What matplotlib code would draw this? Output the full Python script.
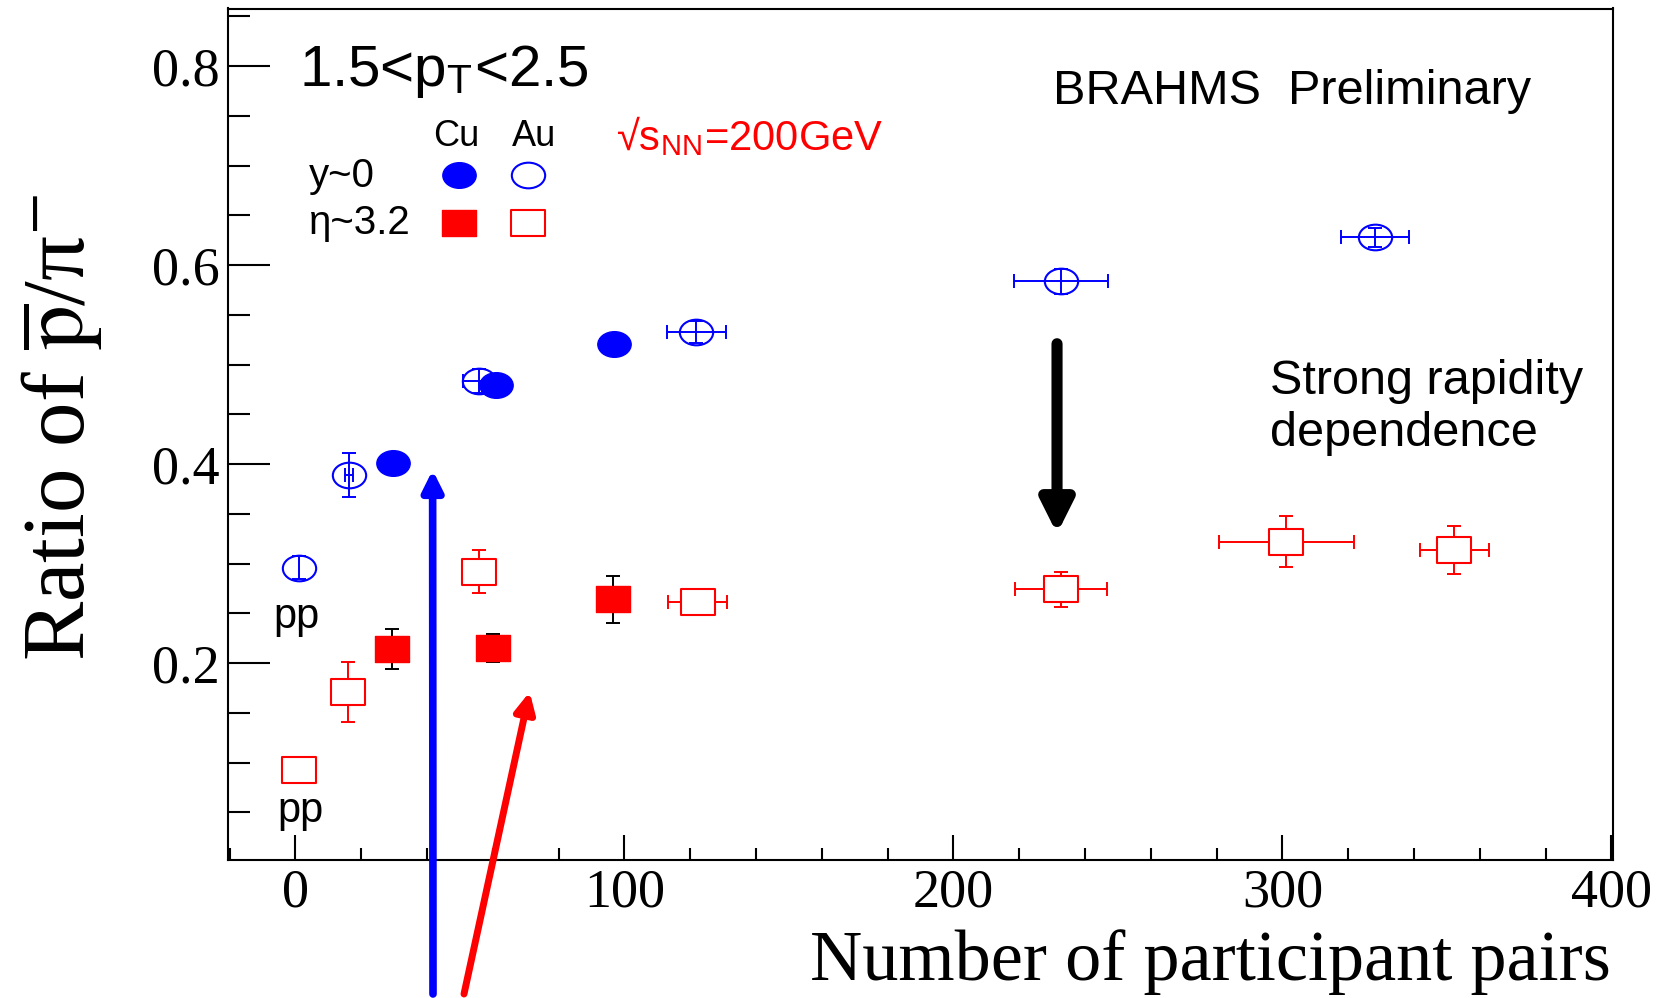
import numpy as np
import matplotlib
matplotlib.use("Agg")
import matplotlib.pyplot as plt
from matplotlib.path import Path
from matplotlib.transforms import Affine2D
from matplotlib.ticker import MultipleLocator, FixedLocator

# Au+Au at y~0 (open circles), first point is pp
au_mid_npart = [1, 16.3, 55.8, 121.9, 232.7, 328.2]
au_mid_ratio = [0.296, 0.389, 0.4835, 0.533, 0.584, 0.628]
au_mid_yerr = [0.012, 0.022, 0.012, 0.011, 0.0126, 0.0097]
au_mid_xerr = [0, 1.2, 5.0, 9.1, 14.2, 10.4]

# Cu+Cu at y~0 (filled circles)
cu_mid_npart = [29.6, 61.0, 96.8]
cu_mid_ratio = [0.401, 0.480, 0.521]

# Au+Au at eta~3.2 (open squares), first point is pp
au_fwd_npart = [1, 16.0, 55.8, 122.3, 232.7, 301.2, 352.3]
au_fwd_ratio = [0.092, 0.171, 0.292, 0.261, 0.274, 0.322, 0.3135]
au_fwd_yerr = [0, 0.030, 0.0216, 0.005, 0.0174, 0.0256, 0.0238]
au_fwd_xerr = [0, 0, 0, 9.0, 13.9, 20.6, 10.6]

# Cu+Cu at eta~3.2 (filled squares)
cu_fwd_npart = [29.3, 60.0, 96.6]
cu_fwd_ratio = [0.214, 0.215, 0.264]
cu_fwd_yerr = [0.020, 0.014, 0.024]

x_ticks = [0, 100, 200, 300, 400]
y_ticks = [0.2, 0.4, 0.6, 0.8]

W, H = 1673, 998
BLUE = "#0000ff"
RED = "#ff0000"
SERIF = "Liberation Serif"
SANS = "Liberation Sans"

plt.rcParams["mathtext.fontset"] = "stix"


def wide(path, sx=1.3):
    return path.transformed(Affine2D().scale(sx, 1.0))

CIRC = wide(Path.unit_circle())
SQR = wide(Path.unit_rectangle().transformed(Affine2D().translate(-0.5, -0.5)))
MS = 24


def fx(px):
    return px / W

def fy(py):
    return 1 - py / H


def draw_errors(ax, x, y, xerr, yerr, color):
    x, y = np.asarray(x, float), np.asarray(y, float)
    xerr, yerr = np.asarray(xerr, float), np.asarray(yerr, float)
    m = yerr > 0
    if m.any():
        ax.errorbar(x[m], y[m], yerr=yerr[m], fmt='none', ecolor=color,
                    elinewidth=1.4, capsize=5, capthick=1.4, zorder=2)
    m = xerr > 0
    if m.any():
        ax.errorbar(x[m], y[m], xerr=xerr[m], fmt='none', ecolor=color,
                    elinewidth=1.4, capsize=5, capthick=1.4, zorder=2)


def main():
    fig = plt.figure(figsize=(W / 100, H / 100), dpi=100)
    ax = fig.add_axes([fx(228), fy(860), fx(1613) - fx(228), fy(8.5) - fy(860)])

    draw_errors(ax, au_mid_npart, au_mid_ratio, au_mid_xerr, au_mid_yerr, BLUE)
    ax.plot(au_mid_npart, au_mid_ratio, ls='none', marker=CIRC, ms=MS,
            mfc='none', mec=BLUE, mew=1.5, zorder=3)

    ax.plot(cu_mid_npart, cu_mid_ratio, ls='none', marker=CIRC, ms=MS,
            mfc=BLUE, mec=BLUE, zorder=3)

    draw_errors(ax, au_fwd_npart, au_fwd_ratio, au_fwd_xerr, au_fwd_yerr, RED)
    ax.plot(au_fwd_npart, au_fwd_ratio, ls='none', marker=SQR, ms=MS,
            mfc='white', mec=RED, mew=1.5, zorder=3)

    draw_errors(ax, cu_fwd_npart, cu_fwd_ratio, [0] * len(cu_fwd_npart), cu_fwd_yerr, 'black')
    ax.plot(cu_fwd_npart, cu_fwd_ratio, ls='none', marker=SQR, ms=MS,
            mfc=RED, mec=RED, zorder=3)

    ax.set_xlim(-20.5, 400.5)
    ax.set_ylim(0.002, 0.858)
    ax.xaxis.set_major_locator(FixedLocator(x_ticks))
    ax.xaxis.set_minor_locator(MultipleLocator(20))
    ax.yaxis.set_major_locator(FixedLocator(y_ticks))
    ax.yaxis.set_minor_locator(MultipleLocator(0.05))
    ax.tick_params(which='both', direction='in', width=1.5, colors='black')
    ax.tick_params(axis='y', which='major', length=30, pad=6)
    ax.tick_params(axis='y', which='minor', length=16)
    ax.tick_params(axis='x', which='major', length=18, pad=6)
    ax.tick_params(axis='x', which='minor', length=9)
    for lab in ax.get_xticklabels() + ax.get_yticklabels():
        lab.set_fontfamily(SERIF)
        lab.set_fontsize(39)
    for sp in ax.spines.values():
        sp.set_linewidth(1.5)

    # axis titles
    fig.text(fx(62), fy(427), r'Ratio of $\overline{\mathrm{p}}$/π$^{-}$', rotation=90,
             ha='center', va='center', fontsize=64, family=SERIF)
    fig.text(fx(1611), fy(962), 'Number of participant pairs', ha='right', va='center',
             fontsize=52, family=SERIF)

    # labels inside the frame
    fig.text(fx(299), fy(86), r'1.5<p$_{\mathregular{T}}$<2.5', ha='left', va='baseline',
             fontsize=42, family=SANS)
    fig.text(fx(616), fy(137), r'√s$_{\mathregular{NN}}$=200GeV', ha='left', va='center',
             fontsize=30, color=RED, family=['Liberation Sans Narrow', SANS])
    fig.text(fx(1053), fy(92), 'BRAHMS  Preliminary', ha='left', va='center',
             fontsize=35, family=SANS)
    fig.text(fx(1270), fy(408), 'Strong rapidity\ndependence', ha='left', va='center',
             fontsize=35, family=SANS, linespacing=1.2)
    fig.text(fx(297), fy(617), 'pp', ha='center', va='center', fontsize=30, family=SANS)
    fig.text(fx(300), fy(811), 'pp', ha='center', va='center', fontsize=30, family=SANS)

    # key
    fig.text(fx(456), fy(136), 'Cu', ha='center', va='center', fontsize=26, family=SANS)
    fig.text(fx(534), fy(136), 'Au', ha='center', va='center', fontsize=26, family=SANS)
    fig.text(fx(309), fy(176), 'y~0', ha='left', va='center', fontsize=29, family=SANS)
    fig.text(fx(309), fy(223), 'η~3.2', ha='left', va='center', fontsize=29, family=SANS)
    ax.plot([fx(459)], [fy(175)], transform=fig.transFigure, marker=CIRC, ms=MS,
            mfc=BLUE, mec=BLUE, clip_on=False)
    ax.plot([fx(528)], [fy(175)], transform=fig.transFigure, marker=CIRC, ms=MS,
            mfc='none', mec=BLUE, mew=1.5, clip_on=False)
    ax.plot([fx(459)], [fy(223)], transform=fig.transFigure, marker=SQR, ms=MS,
            mfc=RED, mec=RED, clip_on=False)
    ax.plot([fx(528)], [fy(223)], transform=fig.transFigure, marker=SQR, ms=MS,
            mfc='white', mec=RED, mew=1.5, clip_on=False)

    # arrows
    ax.annotate('', xy=(41.7, 0.394), xycoords='data',
                xytext=(fx(433), fy(994)), textcoords='figure fraction',
                arrowprops=dict(arrowstyle='-|>', lw=5.5, color=BLUE, mutation_scale=30,
                                shrinkA=0, shrinkB=0), annotation_clip=False)
    ax.annotate('', xy=(71.2, 0.171), xycoords='data',
                xytext=(fx(464), fy(994)), textcoords='figure fraction',
                arrowprops=dict(arrowstyle='-|>', lw=5.0, color=RED, mutation_scale=30,
                                shrinkA=0, shrinkB=0), annotation_clip=False)
    ax.annotate('', xy=(231.5, 0.330), xycoords='data',
                xytext=(231.5, 0.521), textcoords='data',
                arrowprops=dict(arrowstyle='-|>', lw=8, color='black', mutation_scale=48,
                                shrinkA=0, shrinkB=0), annotation_clip=False)

    fig.savefig("out.png", dpi=100)
    plt.close(fig)


if __name__ == "__main__":
    main()
